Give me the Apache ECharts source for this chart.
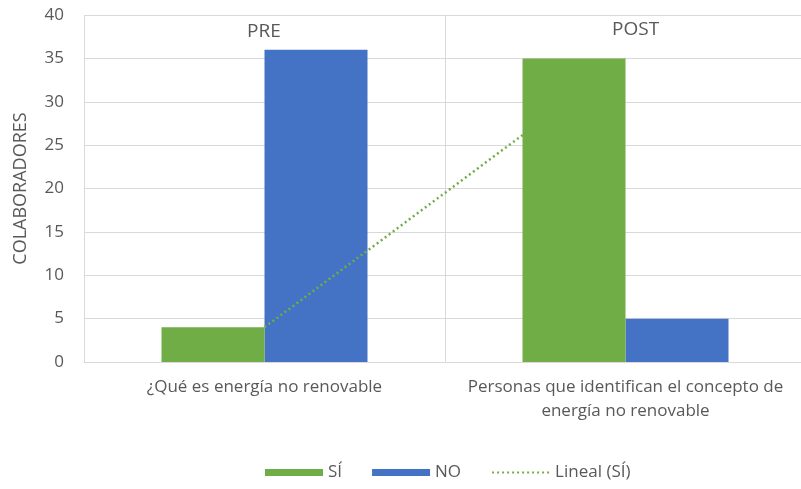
<!DOCTYPE html>
<html><head><meta charset="utf-8">
<script src="https://cdn.jsdelivr.net/npm/echarts@6/dist/echarts.min.js"></script>
<style>html,body{margin:0;padding:0;background:#fff;overflow:hidden}#c{width:806px;height:489px}</style>
</head><body><div id="c"></div>
<script>
const categories = ['¿Qué es energía no renovable', 'Personas que identifican el concepto de\nenergía no renovable'];
const siValues = [4, 35];
const noValues = [36, 5];
const trendSi = [4, 35];
const yTicks = {min: 0, max: 40, interval: 5};
const panelLabels = ['PRE', 'POST'];

const FONT = 'Open Sans';
const TXT = '#595959';
const chart = echarts.init(document.getElementById('c'), null, {renderer: 'canvas'});
chart.setOption({
  animation: false,
  textStyle: {fontFamily: FONT},
  grid: {left: 84, top: 15, right: 0, bottom: 127, containLabel: false},
  legend: {
    top: 459, left: 260, itemGap: 30, itemWidth: 58, itemHeight: 7,
    textStyle: {color: TXT, fontSize: 17, fontFamily: FONT},
    data: [
      {name: 'SÍ', icon: 'rect'},
      {name: 'NO', icon: 'rect'},
      {name: 'Lineal (SÍ)', itemStyle: {opacity: 0}}
    ]
  },
  xAxis: {
    type: 'category', data: categories,
    axisLine: {lineStyle: {color: '#d9d9d9', width: 1}},
    axisTick: {show: false},
    splitLine: {show: true, lineStyle: {color: '#d9d9d9'}},
    axisLabel: {color: TXT, fontSize: 17, interval: 0, lineHeight: 24, margin: 13, fontFamily: FONT}
  },
  yAxis: {
    type: 'value', min: yTicks.min, max: yTicks.max, interval: yTicks.interval,
    name: 'COLABORADORES', nameLocation: 'middle', nameGap: 54, nameRotate: 90,
    nameTextStyle: {color: TXT, fontSize: 18, fontFamily: FONT},
    axisLine: {show: false}, axisTick: {show: false},
    splitLine: {lineStyle: {color: '#d9d9d9'}},
    axisLabel: {color: TXT, fontSize: 17, margin: 20, fontFamily: FONT}
  },
  graphic: [
    {type: 'text', left: 247, top: 22, style: {text: panelLabels[0], fill: TXT, font: '19px "Open Sans"'}},
    {type: 'text', left: 612, top: 20, style: {text: panelLabels[1], fill: TXT, font: '19px "Open Sans"'}}
  ],
  series: [
    {name: 'SÍ', type: 'bar', data: siValues, barWidth: 103, barGap: '0%', z: 4,
     itemStyle: {color: '#70AD47'}},
    {name: 'NO', type: 'bar', data: noValues, barWidth: 103, barGap: '0%', z: 2,
     itemStyle: {color: '#4472C4'}},
    {name: 'Lineal (SÍ)', type: 'line', data: trendSi, z: 3, symbol: 'none',
     lineStyle: {color: '#70AD47', width: 2.5, type: [2, 3]},
     itemStyle: {color: '#70AD47'}}
  ]
});
</script></body></html>
